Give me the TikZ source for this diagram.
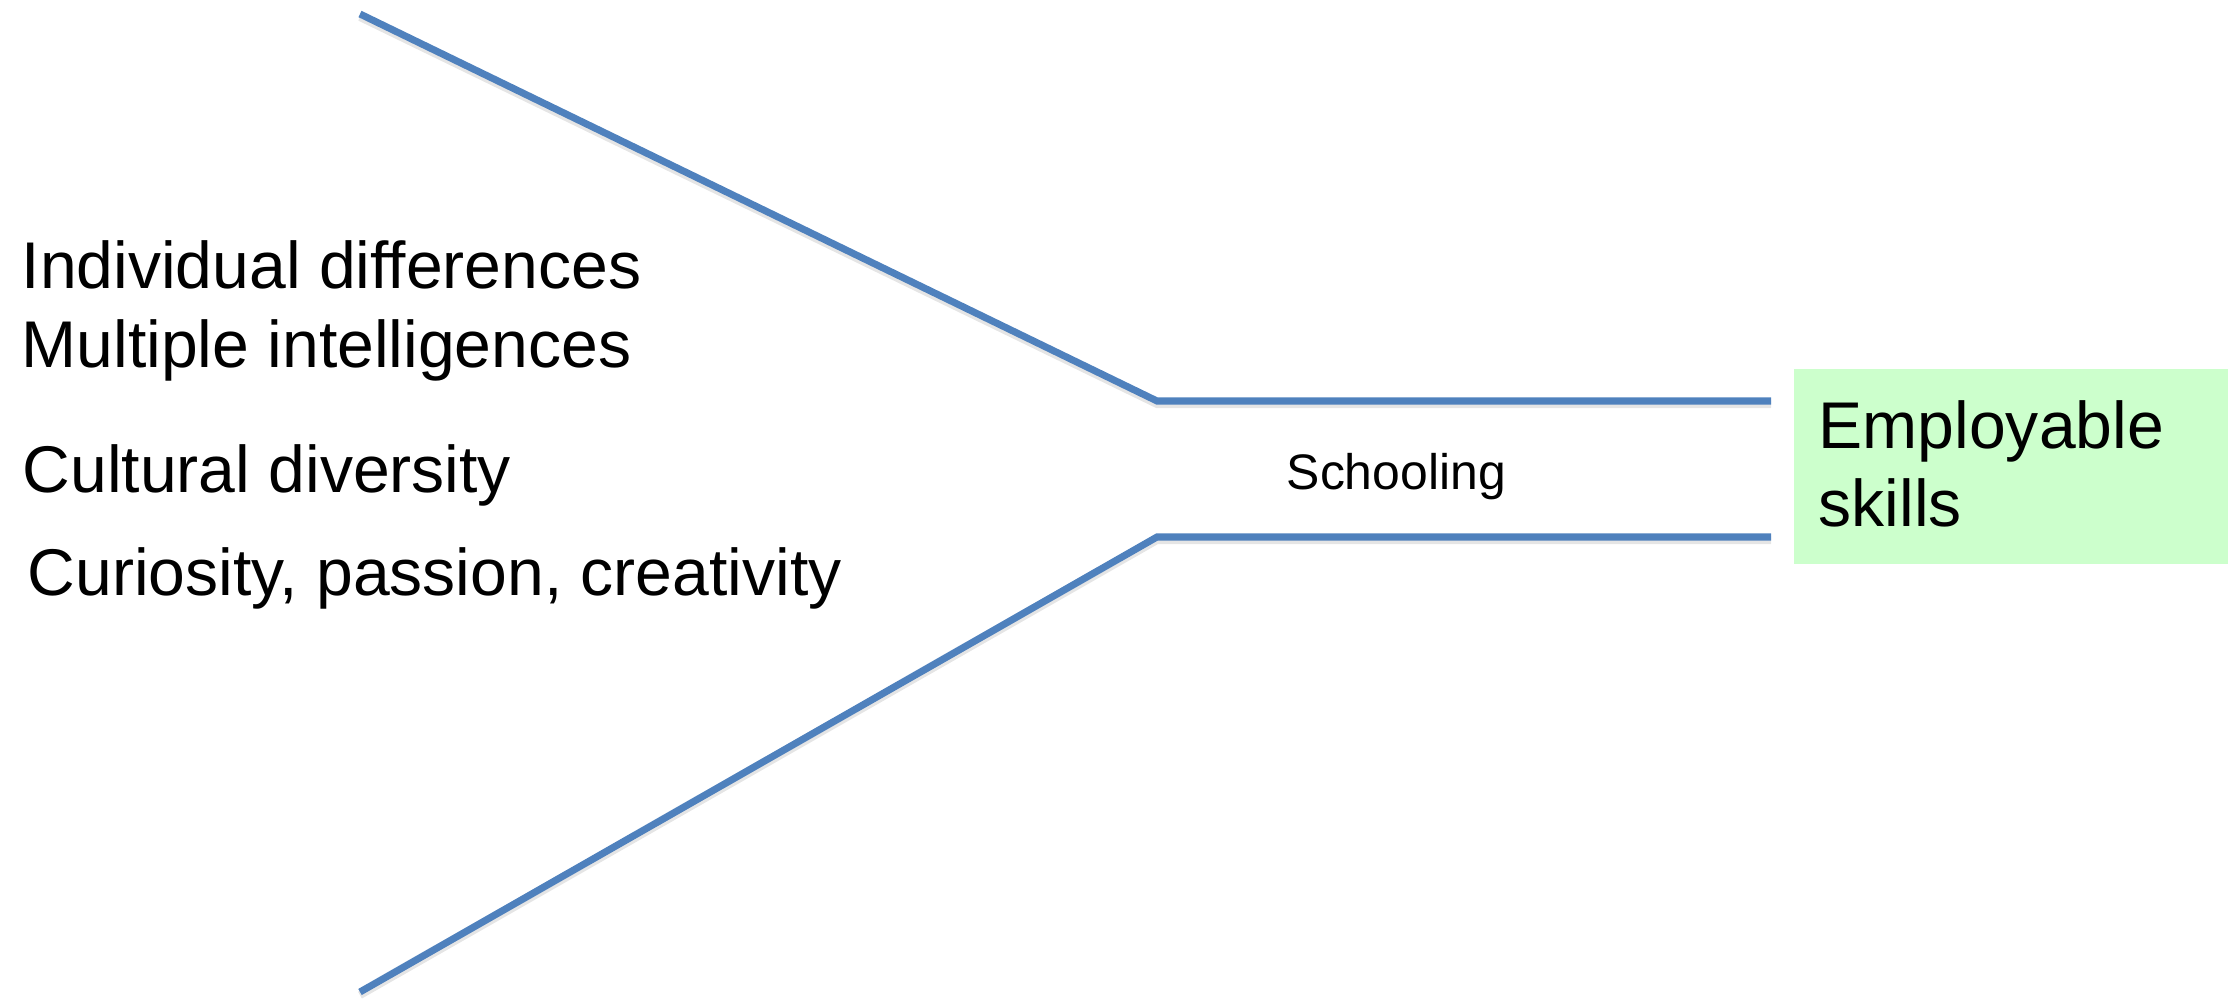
\documentclass[tikz,border=0pt]{standalone}
\usepackage{fontspec}
\setmainfont{Liberation Sans}
\definecolor{lineblue}{HTML}{4F81BD}
\definecolor{boxgreen}{HTML}{CCFFCC}
\begin{document}
\begin{tikzpicture}[x=0.1mm,y=-0.1mm,
  funnel/.style={draw=lineblue,line width=2pt,line join=miter},
  shadowline/.style={draw=black!10,line width=2.2pt},
  bigtext/.style={inner sep=0pt,anchor=base west,font=\fontsize{18.8}{22.4}\selectfont},
  smalltext/.style={inner sep=0pt,anchor=base west,font=\fontsize{14.2}{17}\selectfont},
  goalbox/.style={fill=boxgreen,draw=none,inner sep=0pt}]
\useasboundingbox (0,0) rectangle (2233,999);
% funnel coordinates
\coordinate (ta) at (360,14);
\coordinate (tk) at (1157,401);
\coordinate (te) at (1771,401);
\coordinate (ba) at (360,992);
\coordinate (bk) at (1157,537);
\coordinate (be) at (1771,537);
% soft shadows
\draw[shadowline] ([yshift=-0.9pt] ta) -- ([yshift=-0.9pt] tk) -- ([yshift=-0.9pt] te);
\draw[shadowline] ([yshift=-0.9pt] ba) -- ([yshift=-0.9pt] bk) -- ([yshift=-0.9pt] be);
% funnel lines
\draw[funnel] (ta) -- (tk) -- (te);
\draw[funnel] (ba) -- (bk) -- (be);
% goal box
\node[goalbox,minimum width=434*0.1mm,minimum height=195*0.1mm,anchor=north west] (goal) at (1793,368) {};
\node[bigtext,align=left] (goaltext) at (1818,527) {Employable\\skills};
% left texts
\node[bigtext] (t1) at (21,289) {Individual differences};
\node[bigtext] (t2) at (21,368) {Multiple intelligences};
\node[bigtext] (t3) at (22,493) {Cultural diversity};
\node[bigtext] (t4) at (27,596) {Curiosity, passion, creativity};
% schooling
\node[smalltext] (school) at (1286,490) {Schooling};
\end{tikzpicture}
\end{document}
